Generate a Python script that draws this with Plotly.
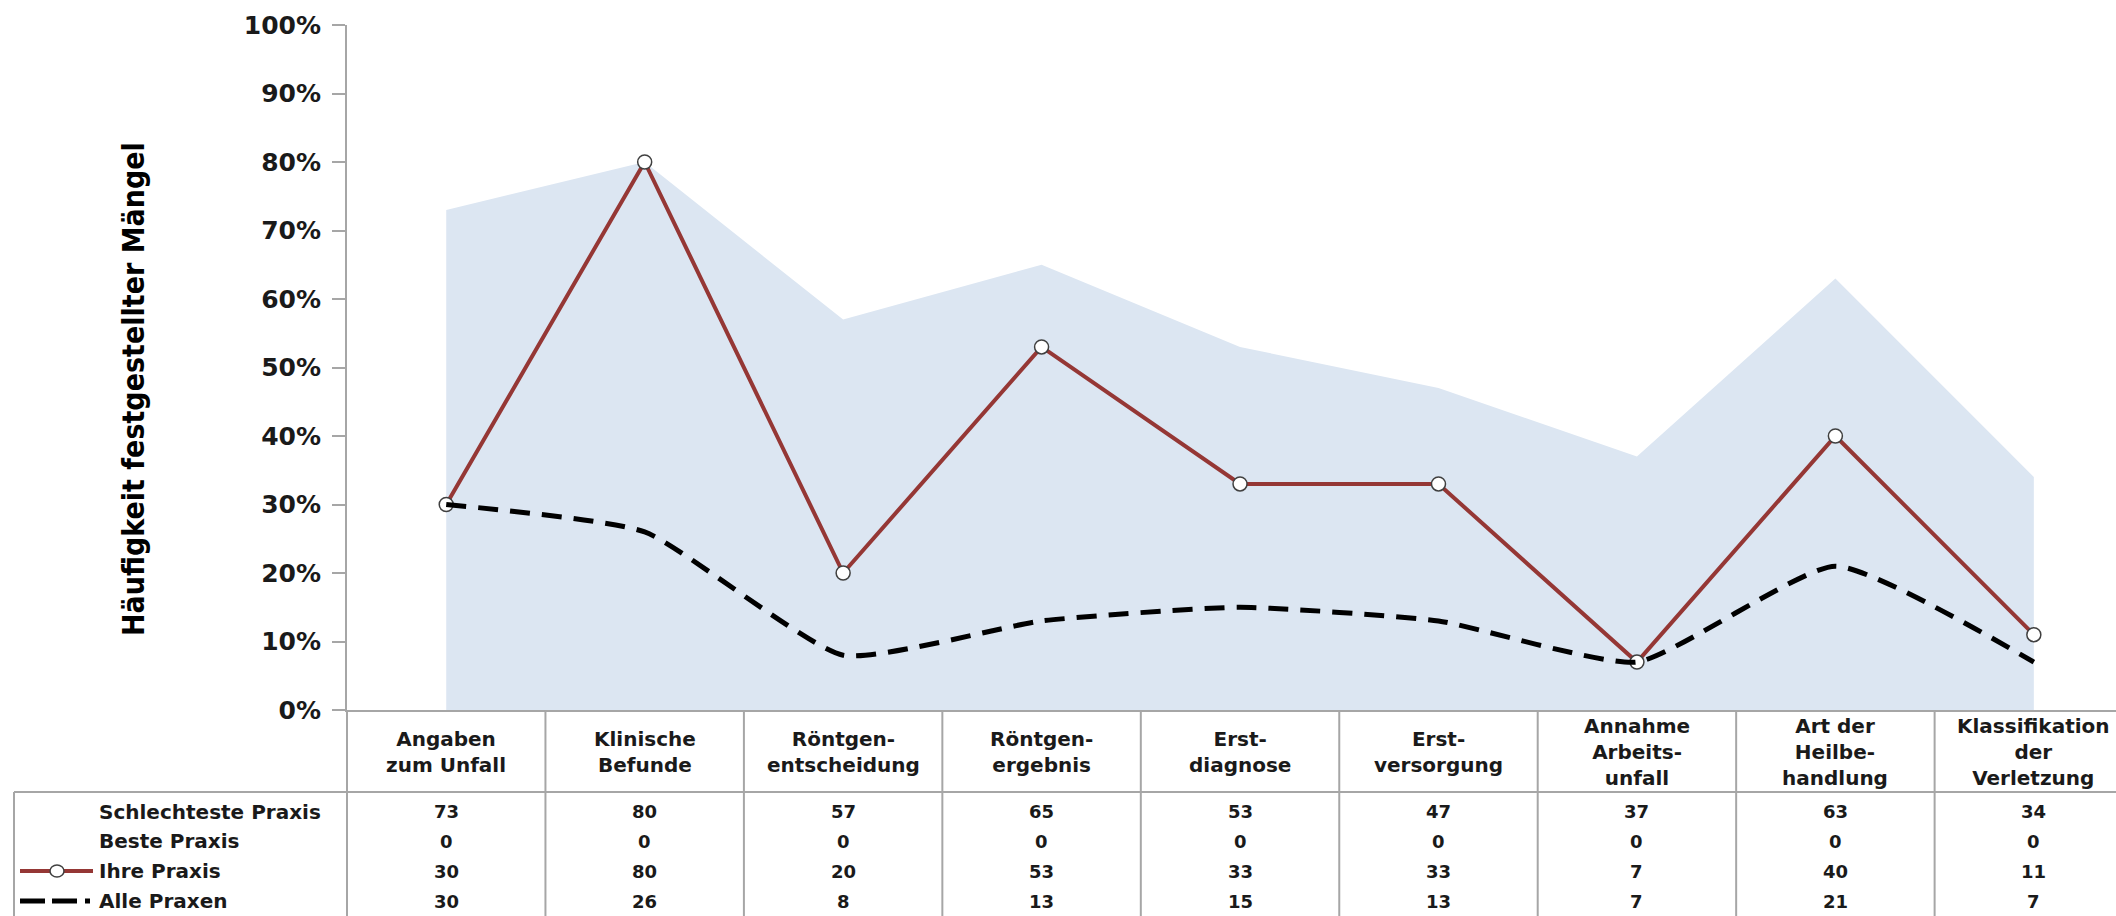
import plotly.graph_objects as go

# Kategorien und Werte (Häufigkeit festgestellter Mängel in %)
categories = [
    "Angaben<br>zum Unfall",
    "Klinische<br>Befunde",
    "Röntgen-<br>entscheidung",
    "Röntgen-<br>ergebnis",
    "Erst-<br>diagnose",
    "Erst-<br>versorgung",
    "Annahme<br>Arbeits-<br>unfall",
    "Art der<br>Heilbe-<br>handlung",
    "Klassifikation<br>der<br>Verletzung",
]
schlechteste_praxis = [73, 80, 57, 65, 53, 47, 37, 63, 34]
beste_praxis = [0, 0, 0, 0, 0, 0, 0, 0, 0]
ihre_praxis = [30, 80, 20, 53, 33, 33, 7, 40, 11]
alle_praxen = [30, 26, 8, 13, 15, 13, 7, 21, 7]

row_labels = ["Schlechteste Praxis", "Beste Praxis", "Ihre Praxis", "Alle Praxen"]
row_values = [schlechteste_praxis, beste_praxis, ihre_praxis, alle_praxen]

# Seitenmaße und Plotbereich (Pixel)
W, H = 2116, 916
PLOT_L, PLOT_T, PLOT_B = 347, 25, 710
X_MIN, X_MAX = -0.5, 8.414

FONT = "DejaVu Sans, Liberation Sans, sans-serif"
RED = "#953735"
AREA = "#DCE6F2"
GRID = "#A6A6A6"


def py(p):
    """Pixel-Zeile -> Papierkoordinate y."""
    return (PLOT_B - p) / (PLOT_B - PLOT_T)


def px(p):
    """Pixel-Spalte -> Papierkoordinate x."""
    return (p - PLOT_L) / (W - PLOT_L)


def xd(v):
    """Kategorieposition -> Papierkoordinate x."""
    return (v - X_MIN) / (X_MAX - X_MIN)


idx = list(range(len(categories)))

fig = go.Figure()

fig.add_trace(go.Scatter(
    x=idx, y=[v / 100 for v in schlechteste_praxis],
    mode="lines", line=dict(width=0, color=AREA),
    fill="tozeroy", fillcolor=AREA, hoverinfo="skip", name="Schlechteste Praxis",
))
fig.add_trace(go.Scatter(
    x=idx, y=[v / 100 for v in beste_praxis],
    mode="lines", line=dict(width=0, color="white"),
    hoverinfo="skip", name="Beste Praxis",
))
fig.add_trace(go.Scatter(
    x=idx, y=[v / 100 for v in ihre_praxis],
    mode="lines+markers", line=dict(color=RED, width=4),
    marker=dict(symbol="circle", size=14, color="white",
                line=dict(color="#404040", width=1.5)),
    name="Ihre Praxis", cliponaxis=False,
))
fig.add_trace(go.Scatter(
    x=idx, y=[v / 100 for v in alle_praxen],
    mode="lines", line=dict(color="black", width=5, dash="20px,12px",
                            shape="spline", smoothing=0.5),
    name="Alle Praxen", cliponaxis=False,
))

shapes = []
annotations = []

# Datentabelle: Gitterlinien
header_bottom = 792
for k in range(len(categories) + 1):
    xe = xd(k - 0.5)
    shapes.append(dict(type="line", xref="paper", yref="paper",
                       x0=xe, x1=xe, y0=py(PLOT_B), y1=py(H + 5),
                       line=dict(color=GRID, width=2)))
shapes.append(dict(type="line", xref="paper", yref="paper",
                   x0=px(14), x1=1.02, y0=py(header_bottom), y1=py(header_bottom),
                   line=dict(color=GRID, width=2)))
shapes.append(dict(type="line", xref="paper", yref="paper",
                   x0=px(14), x1=px(14), y0=py(header_bottom), y1=py(H + 5),
                   line=dict(color=GRID, width=2)))

# Kopfzeile mit Kategorienamen
for i, c in enumerate(categories):
    annotations.append(dict(
        x=i, xref="x", y=py(752), yref="paper", text=c, showarrow=False,
        xanchor="center", yanchor="middle", align="center",
        font=dict(family=FONT, size=20, color="#1a1a1a", weight="bold"),
    ))

# Tabellenzeilen
row_y = [812, 841, 871, 901]
for r, (label, vals) in enumerate(zip(row_labels, row_values)):
    annotations.append(dict(
        x=px(97), xref="paper", y=py(row_y[r]), yref="paper", text=label,
        showarrow=False, xanchor="left", yanchor="middle",
        font=dict(family=FONT, size=20, color="#1a1a1a", weight="bold"),
    ))
    for i, v in enumerate(vals):
        annotations.append(dict(
            x=i, xref="x", y=py(row_y[r]), yref="paper", text=str(v),
            showarrow=False, xanchor="center", yanchor="middle",
            font=dict(family=FONT, size=18, color="#1a1a1a", weight="bold"),
        ))

# Legendensymbole in der Tabelle
shapes.append(dict(type="line", xref="paper", yref="paper",
                   x0=px(20), x1=px(93), y0=py(row_y[2]), y1=py(row_y[2]),
                   line=dict(color=RED, width=4)))
shapes.append(dict(type="circle", xref="paper", yref="paper",
                   x0=px(50), x1=px(64), y0=py(row_y[2] - 6), y1=py(row_y[2] + 6),
                   fillcolor="white", line=dict(color="#404040", width=1.5)))
shapes.append(dict(type="line", xref="paper", yref="paper",
                   x0=px(20), x1=px(91), y0=py(row_y[3]), y1=py(row_y[3]),
                   line=dict(color="black", width=5, dash="25px,7px,25px,8px,5px,40px")))

# Achsentitel
annotations.append(dict(
    x=px(133), xref="paper", y=py(389), yref="paper",
    text="Häufigkeit festgestellter Mängel", textangle=-90, showarrow=False,
    xanchor="center", yanchor="middle",
    font=dict(family="Liberation Sans Narrow, DejaVu Sans Condensed, Liberation Sans",
              size=30, color="black", weight="bold"),
))

fig.update_layout(
    width=W, height=H,
    margin=dict(l=PLOT_L, r=0, t=PLOT_T, b=H - PLOT_B, pad=0),
    paper_bgcolor="white", plot_bgcolor="white",
    showlegend=False,
    shapes=shapes, annotations=annotations,
    xaxis=dict(range=[X_MIN, X_MAX], showticklabels=False, showgrid=False,
               zeroline=False, showline=True, linecolor=GRID, linewidth=2,
               ticks=""),
    yaxis=dict(range=[0, 1], dtick=0.1, tickformat=".0%", showgrid=False,
               zeroline=False, showline=True, linecolor=GRID, linewidth=2,
               ticks="outside", ticklen=13, tickcolor=GRID, tickwidth=2,
               ticklabelstandoff=6,
               tickfont=dict(family=FONT, size=25, color="#1a1a1a", weight="bold")),
)

fig.write_html("out.html")
